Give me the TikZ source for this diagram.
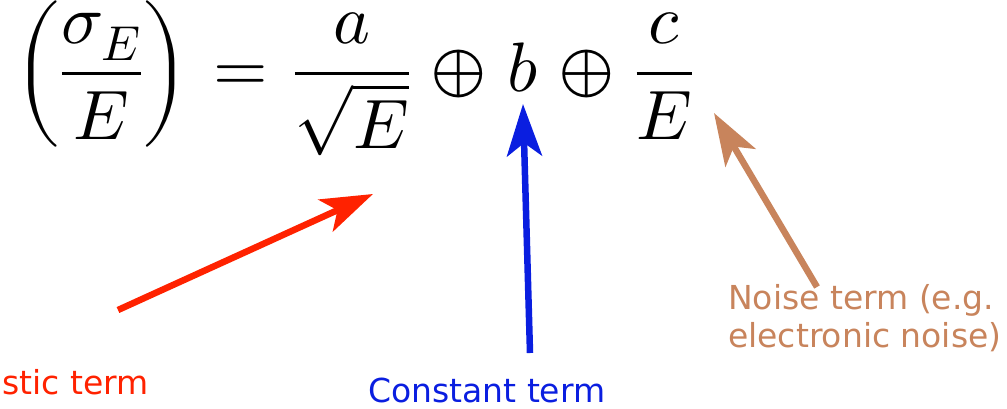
\documentclass[tikz,border=0pt]{standalone}
\usepackage{amsmath}
\usepackage{fontspec}
\usepackage{unicode-math}
\newfontfamily\termfont{DejaVu Sans}
\usetikzlibrary{arrows.meta,positioning}
\definecolor{stochred}{HTML}{FF2200}
\definecolor{constblue}{HTML}{0A1EE0}
\definecolor{noisebrown}{HTML}{C8845C}

\begin{document}
\begin{tikzpicture}[x=1pt,y=-1pt,
  term/.style={font=\termfont\fontsize{33}{38}\selectfont,inner sep=0pt,anchor=base west,align=left},
  pointer/.style={-{Stealth[length=52pt,width=35pt,inset=13pt]},line width=6.5pt}]
\useasboundingbox (0,0) rectangle (1007,408);
% resolution formula
\node[inner sep=0pt,anchor=base west,font=\fontsize{70}{84}\selectfont] (formula) at (14,91)
  {$\medmuskip=5.5mu\thickmuskip=6.5mu\displaystyle\left(\frac{\sigma_E}{E}\right)=\frac{a}{\sqrt{E}}\oplus b\oplus\frac{c}{E}$};
% labels
\node[term,stochred] (stoch) at (2,394) {stic term};
\node[term,constblue] (const) at (368,402) {Constant term};
\node[term,noisebrown] (noise) at (728,347) {Noise term (e.g.\\electronic noise)};
% arrow ends
\coordinate (stochtail) at (118,310); \coordinate (stochtip) at (373,194);
\coordinate (consttail) at (530,353); \coordinate (consttip) at (523,104);
\coordinate (noisetail) at (817,287); \coordinate (noisetip) at (714,113);
\draw[pointer,stochred] (stochtail) -- (stochtip);
\draw[pointer,constblue] (consttail) -- (consttip);
\draw[pointer,noisebrown] (noisetail) -- (noisetip);
\end{tikzpicture}
\end{document}
